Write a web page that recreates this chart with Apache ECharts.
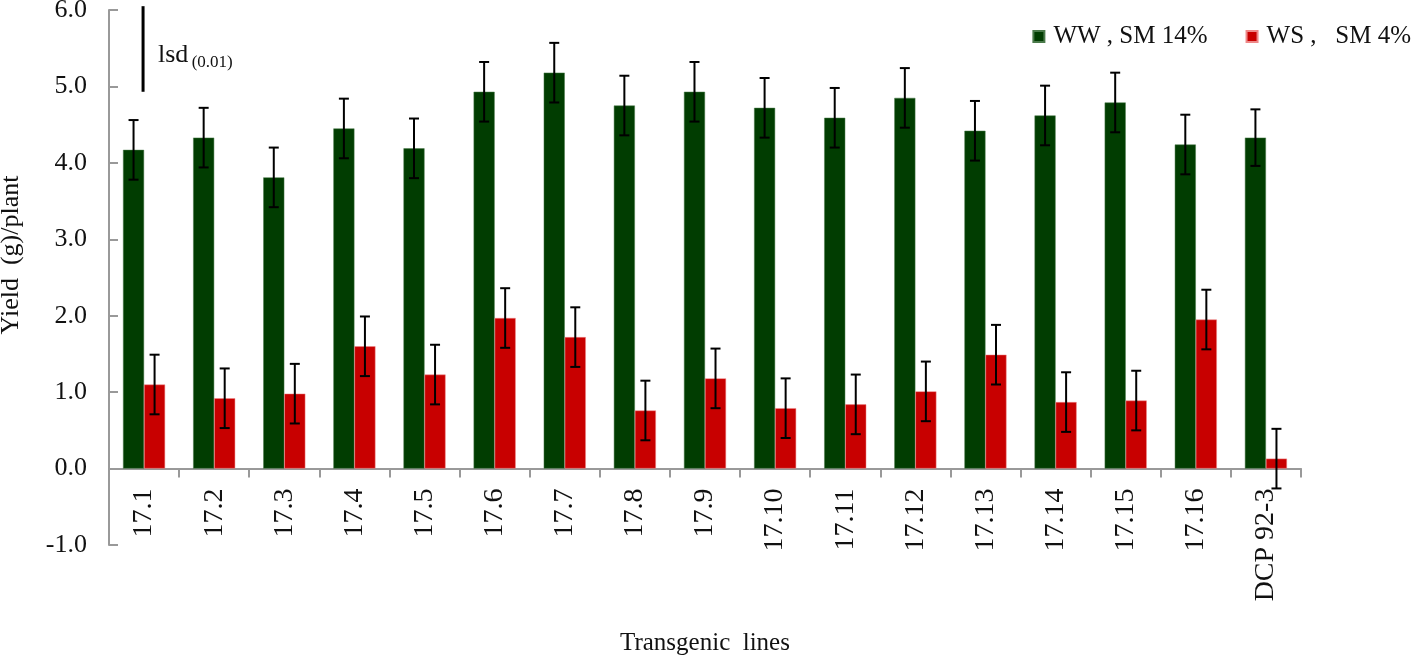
<!DOCTYPE html>
<html>
<head>
<meta charset="utf-8">
<script src="https://cdn.jsdelivr.net/npm/echarts@6/dist/echarts.min.js"></script>
<style>html,body{margin:0;padding:0;background:#fff}#c{width:1418px;height:658px}</style>
</head>
<body>
<div id="c"></div>
<script>
const categories = ['17.1','17.2','17.3','17.4','17.5','17.6','17.7','17.8','17.9','17.10','17.11','17.12','17.13','17.14','17.15','17.16','DCP 92-3'];
const wwValues = [4.17,4.33,3.81,4.45,4.19,4.93,5.18,4.75,4.93,4.72,4.59,4.85,4.42,4.62,4.79,4.24,4.33];
const wsValues = [1.10,0.92,0.98,1.60,1.23,1.97,1.72,0.76,1.18,0.79,0.84,1.01,1.49,0.87,0.89,1.95,0.13];
const wwErr = [0.39,0.39,0.39,0.39,0.39,0.39,0.39,0.39,0.39,0.39,0.39,0.39,0.39,0.39,0.39,0.39,0.37];
const wsErr = [0.39,0.39,0.39,0.39,0.39,0.39,0.39,0.39,0.39,0.39,0.39,0.39,0.39,0.39,0.39,0.39,0.39];
const yTicks = [-1,0,1,2,3,4,5,6];
const lsdLine = [[0, 4.93, 6.05]];
const seriesNames = ['WW , SM 14%', 'WS ,   SM 4%'];

const font = '"Liberation Serif", "Times New Roman", serif';
const GREEN = '#013d01', RED = '#c80000';
const GRID = {left:109, right:117, top:10, bottom:113};
const yMin = yTicks[0], yMax = yTicks[yTicks.length-1];
const gridH = 658 - GRID.top - GRID.bottom;
const zeroOffset = -gridH * (0 - yMin) / (yMax - yMin);

function errData(vals, errs){ return vals.map((v,i)=>[i, v-errs[i], v+errs[i]]); }
function errRender(sign){
  return function(params, api){
    const xi = api.value(0);
    const band = api.size([1,0])[0];
    const off = sign * band * 0.15;
    const lo = api.coord([xi, api.value(1)]);
    const hi = api.coord([xi, api.value(2)]);
    const x = lo[0] + off;
    const cap = 5;
    const st = {stroke:'#000', lineWidth:2};
    return {type:'group', children:[
      {type:'line', shape:{x1:x,y1:lo[1],x2:x,y2:hi[1]}, style:st},
      {type:'line', shape:{x1:x-cap,y1:lo[1],x2:x+cap,y2:lo[1]}, style:st},
      {type:'line', shape:{x1:x-cap,y1:hi[1],x2:x+cap,y2:hi[1]}, style:st}
    ]};
  };
}

const chart = echarts.init(document.getElementById('c'));
chart.setOption({
  animation:false,
  grid:Object.assign({containLabel:false, outerBoundsMode:'none'}, GRID),
  legend:{
    data: seriesNames,
    right: 2, top: 19,
    itemWidth: 11, itemHeight: 11, itemGap: 38,
    icon: 'rect',
    textStyle:{fontFamily: font, fontSize: 25, color:'#111', padding:[0,0,0,4]}
  },
  xAxis:{
    type:'category', data: categories, position:'bottom', offset: zeroOffset,
    axisLine:{onZero:false, lineStyle:{color:'#999', width:2}},
    axisTick:{show:true, length:9, lineStyle:{color:'#999', width:2}},
    axisLabel:{rotate:90, fontFamily: font, fontSize: 28, color:'#111', margin:20, interval:0},
    name:'Transgenic  lines', nameLocation:'middle', nameGap:162,
    nameTextStyle:{fontFamily: font, fontSize: 25, color:'#111'}
  },
  yAxis:{
    type:'value', min: yMin, max: yMax, interval:1,
    axisLine:{show:true, lineStyle:{color:'#999', width:2}},
    axisTick:{show:true, inside:true, length:9, lineStyle:{color:'#999', width:2}},
    splitLine:{show:false},
    axisLabel:{formatter: v=>v.toFixed(1), fontFamily: font, fontSize: 26, color:'#111', margin:22}
  },
  graphic:[
    {type:'text', left:158, top:42, style:{
      text:'{a|lsd} {b|(0.01)}',
      rich:{a:{fontFamily:font, fontSize:26, fill:'#111'}, b:{fontFamily:font, fontSize:17, fill:'#111', padding:[16,0,0,0]}}
    }},
    {type:'text', x:11, y:255, rotation:Math.PI/2, style:{
      text:'Yield  (g)/plant', fontFamily:font, fontSize:26, fill:'#111', align:'center', verticalAlign:'middle'
    }}
  ],
  series:[
    {name: seriesNames[0], type:'bar', data: wwValues, barWidth:'30%', barGap:'0%',
     itemStyle:{color:GREEN, borderColor:'#4a7a4a', borderWidth:0.5}},
    {name: seriesNames[1], type:'bar', data: wsValues, barWidth:'30%', barGap:'0%',
     itemStyle:{color:RED, borderColor:'#e88', borderWidth:0.5}},
    {type:'custom', data: errData(wwValues, wwErr), renderItem: errRender(-1), encode:{x:0, y:[1,2]}, z:5, silent:true},
    {type:'custom', data: errData(wsValues, wsErr), renderItem: errRender(1), encode:{x:0, y:[1,2]}, z:5, silent:true},
    {type:'custom', data: lsdLine, clip:false, z:5, silent:true, encode:{x:0, y:[1,2]},
     renderItem: function(params, api){
       const lo = api.coord([api.value(0), api.value(1)]);
       const hi = api.coord([api.value(0), api.value(2)]);
       return {type:'line', shape:{x1:lo[0]-1,y1:lo[1],x2:hi[0]-1,y2:hi[1]}, style:{stroke:'#000', lineWidth:3}};
     }}
  ]
});
</script>
</body>
</html>
